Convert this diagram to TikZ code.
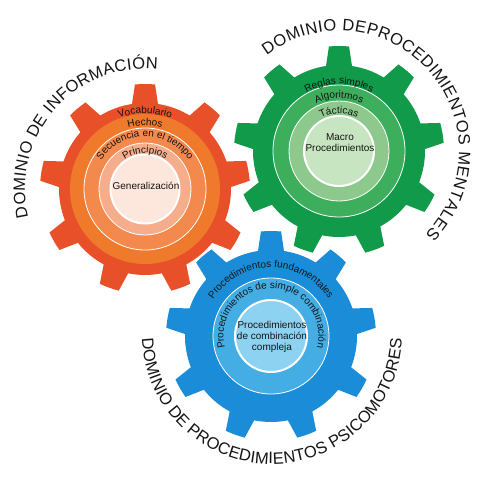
\documentclass[tikz,border=0pt]{standalone}
\usepackage{fontspec}
\setmainfont{Liberation Sans}
\usetikzlibrary{decorations.text}
\definecolor{oDark}{HTML}{E8502A}
\definecolor{oMid}{HTML}{F07A2C}
\definecolor{oLight}{HTML}{F3894C}
\definecolor{oSalmon}{HTML}{F6AD8B}
\definecolor{oPale}{HTML}{FDE6DC}
\definecolor{gDark}{HTML}{109A49}
\definecolor{gMid}{HTML}{3DAE5C}
\definecolor{gLight}{HTML}{8DC88C}
\definecolor{gPale}{HTML}{C8E5C1}
\definecolor{bDark}{HTML}{1B8DD8}
\definecolor{bMid}{HTML}{44ADE4}
\definecolor{bPale}{HTML}{8ED2F2}
\definecolor{ink}{HTML}{151515}
\newcommand{\mygear}[1]{%
  \fill[#1] (70:86pt) \foreach \k in {0,...,8}{
     arc[start angle={70+40*\k}, end angle={81.3+40*\k}, radius=86pt]
     -- ({84.5+40*\k}:105pt)
     arc[start angle={84.5+40*\k}, end angle={95.5+40*\k}, radius=105pt]
     -- ({98.7+40*\k}:86pt)
     arc[start angle={98.7+40*\k}, end angle={110+40*\k}, radius=86pt]
  } -- cycle;}
\tikzset{
  thinring/.style={draw=white, line width=0.8pt},
  thickring/.style={draw=white, line width=2pt},
  arclabel/.style={decorate, decoration={text along path, text align=center,
      text color=ink, text={|\fontsize{10}{12}\selectfont|#1}}},
  biglabel/.style={decorate, decoration={text along path,
      text align={fit to path},
      text color=ink, text={|\fontsize{16.5}{19}\selectfont|#1}}},
  centertext/.style={text=ink, align=center, font=\fontsize{10}{11}\selectfont, inner sep=0pt}
}
\begin{document}
\begin{tikzpicture}[x=1pt, y=1pt]
\useasboundingbox (0,0) rectangle (483,-480);
\fill[white] (0,0) rectangle (483,-480);

% ---------- orange gear ----------
\begin{scope}[shift={(145,-189)}]
  \mygear{oDark}
  \fill[oMid] (0,0) circle[radius=75pt];
  \filldraw[oLight, thinring] (0,0) circle[radius=61pt];
  \filldraw[oSalmon, thinring] (0,0) circle[radius=46pt];
  \filldraw[oPale, thickring] (0,0) circle[radius=34.5pt];
  \path[arclabel={Vocabulario}] (165:75.5pt) arc[start angle=165, end angle=15, radius=75.5pt];
  \path[arclabel={Hechos}] (165:63.5pt) arc[start angle=165, end angle=15, radius=63.5pt];
  \path[arclabel={Secuencia en el tiempo}] (175:52.5pt) arc[start angle=175, end angle=5, radius=52.5pt];
  \path[arclabel={Principios}] (170:36pt) arc[start angle=170, end angle=10, radius=36pt];
  \node[centertext] (gen) at (1,3) {Generalización};
  \path[biglabel={DOMINIO DE INFORMACIÓN}] (193.5:120pt) arc[start angle=193.5, end angle=84, radius=120pt];
\end{scope}

% ---------- green gear ----------
\begin{scope}[shift={(339,-151)}]
  \mygear{gDark}
  \filldraw[gMid, thinring] (0,0) circle[radius=66pt];
  \filldraw[gLight, thinring] (0,0) circle[radius=50pt];
  \filldraw[gPale, thickring] (0,0) circle[radius=35pt];
  \path[arclabel={Reglas simples}] (165:67pt) arc[start angle=165, end angle=15, radius=67pt];
  \path[arclabel={Algoritmos}] (165:53pt) arc[start angle=165, end angle=15, radius=53pt];
  \path[arclabel={Tácticas}] (170:37.5pt) arc[start angle=170, end angle=10, radius=37.5pt];
  \node[centertext] (macro) at (1,8) {Macro\\Procedimientos};
  \path[biglabel={DOMINIO DEPROCEDIMIENTOS MENTALES}] (127:120pt) arc[start angle=127, end angle=-44, radius=120pt];
\end{scope}

% ---------- blue gear ----------
\begin{scope}[shift={(271,-336)}]
  \mygear{bDark}
  \filldraw[bMid, thinring] (0,0) circle[radius=58pt];
  \filldraw[bPale, thickring] (0,0) circle[radius=36pt];
  \path[arclabel={Procedimientos fundamentales}] (175:68.5pt) arc[start angle=175, end angle=5, radius=68.5pt];
  \path[arclabel={Procedimientos de simple combinación}] (215:47.5pt) arc[start angle=215, end angle=-35, radius=47.5pt];
  \node[centertext] (compleja) at (1,-1) {Procedimientos\\de combinación\\compleja};
\end{scope}
\begin{scope}[shift={(272,-334)}]
  \path[biglabel={DOMINIO DE PROCEDIMIENTOS PSICOMOTORES}] (182:130pt) arc[start angle=182, end angle=358, radius=130pt];
\end{scope}
\end{tikzpicture}
\end{document}
